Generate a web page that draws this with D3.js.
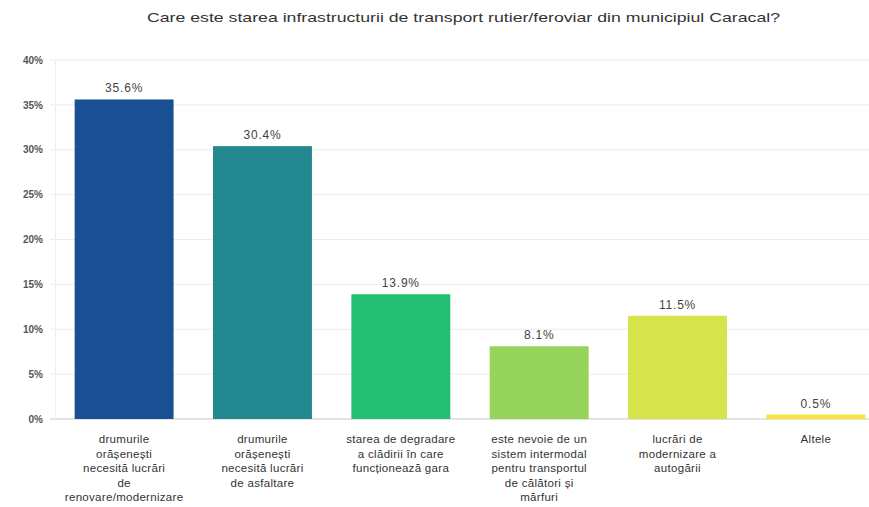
<!DOCTYPE html>
<html><head><meta charset="utf-8">
<script src="https://cdn.jsdelivr.net/npm/d3@7"></script>
<style>body{margin:0;background:#fff}svg{display:block;font-family:Arial,"Liberation Sans",sans-serif}</style>
</head><body><svg id="c" width="869" height="507"></svg>
<script>
const title = "Care este starea infrastructurii de transport rutier/feroviar din municipiul Caracal?";
const categories = [
  ["drumurile","orășenești","necesită lucrări","de","renovare/modernizare"],
  ["drumurile","orășenești","necesită lucrări","de asfaltare"],
  ["starea de degradare","a clădirii în care","funcționează gara"],
  ["este nevoie de un","sistem intermodal","pentru transportul","de călători și","mărfuri"],
  ["lucrări de","modernizare a","autogării"],
  ["Altele"]
];
const values = [35.6, 30.4, 13.9, 8.1, 11.5, 0.5];
const colors = ["#1b4f94","#23888f","#22bf72","#95d35b","#d7e34b","#f4e43c"];
const yTicks = [0,5,10,15,20,25,30,35,40];

const svg = d3.select("#c");
const x = d3.scaleBand().domain(d3.range(values.length)).range([55, 885]).paddingInner(0.285).paddingOuter(0.142);
const y = d3.scaleLinear().domain([0,40]).range([419,60]);

svg.append("text").attr("x",463.5).attr("y",22).attr("text-anchor","middle")
  .attr("font-size",13.5).attr("fill","#333")
  .attr("textLength",633).attr("lengthAdjust","spacingAndGlyphs").text(title);

// grid
svg.append("g").selectAll("line").data(yTicks).join("line")
  .attr("x1",50).attr("x2",869).attr("y1",d=>y(d)).attr("y2",d=>y(d))
  .attr("stroke",d=>d===0?"#c8c8c8":"#ececec").attr("stroke-width",1);
svg.append("line").attr("x1",55.5).attr("x2",55.5).attr("y1",60).attr("y2",419).attr("stroke","#eeeeee");

const yAxis = d3.axisLeft(y).tickValues(yTicks).tickFormat(d=>d+"%").tickSize(0).tickPadding(0);
const ga = svg.append("g").attr("transform","translate(43,0)").call(yAxis);
ga.select(".domain").remove();
ga.selectAll("text").attr("font-size",10).attr("font-weight","bold").attr("fill","#555").attr("font-family","Arial,sans-serif");

// bars
svg.append("g").selectAll("rect").data(values).join("rect")
  .attr("x",(d,i)=>x(i)).attr("width",x.bandwidth())
  .attr("y",d=>y(d)).attr("height",d=>y(0)-y(d))
  .attr("fill",(d,i)=>colors[i]);

// value labels
svg.append("g").selectAll("text").data(values).join("text")
  .attr("x",(d,i)=>x(i)+x.bandwidth()/2).attr("y",d=>y(d)-7)
  .attr("text-anchor","middle").attr("font-size",12).attr("letter-spacing",0.8).attr("fill","#444")
  .text(d=>d.toFixed(1)+"%");

// category labels
const gl = svg.append("g");
categories.forEach((lines,i)=>{
  const t = gl.append("text").attr("x",x(i)+x.bandwidth()/2).attr("y",443)
    .attr("text-anchor","middle").attr("font-size",11.5).attr("letter-spacing",0.3).attr("fill","#333");
  lines.forEach((l,j)=>t.append("tspan").attr("x",x(i)+x.bandwidth()/2).attr("dy",j?14.5:0).text(l));
});
</script></body></html>
